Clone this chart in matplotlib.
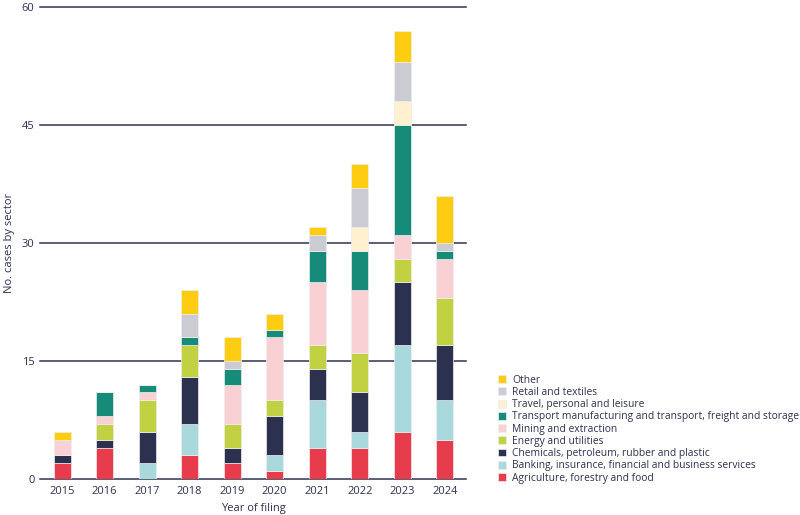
import matplotlib.pyplot as plt
import numpy as np

years = ['2015', '2016', '2017', '2018', '2019', '2020', '2021', '2022', '2023', '2024']

sectors = [
    'Agriculture, forestry and food',
    'Banking, insurance, financial and business services',
    'Chemicals, petroleum, rubber and plastic',
    'Energy and utilities',
    'Mining and extraction',
    'Transport manufacturing and transport, freight and storage',
    'Travel, personal and leisure',
    'Retail and textiles',
    'Other',
]

agriculture = [2, 4, 0, 3, 2, 1, 4, 4, 6, 5]
banking = [0, 0, 2, 4, 0, 2, 6, 2, 11, 5]
chemicals = [1, 1, 4, 6, 2, 5, 4, 5, 8, 7]
energy = [0, 2, 4, 4, 3, 2, 3, 5, 3, 6]
mining = [2, 1, 1, 0, 5, 8, 8, 8, 3, 5]
transport = [0, 3, 1, 1, 2, 1, 4, 5, 14, 1]
travel = [0, 0, 0, 0, 0, 0, 0, 3, 3, 0]
retail = [0, 0, 0, 3, 1, 0, 2, 5, 5, 1]
other = [1, 0, 0, 3, 3, 2, 1, 3, 4, 6]

series = [agriculture, banking, chemicals, energy, mining, transport, travel, retail, other]
colors = ['#e63c4b', '#a9d9dd', '#2d3150', '#c1d141', '#f9d0d3',
          '#168b79', '#fff1cf', '#cbccd3', '#fecd12']

navy = '#2d3150'
plt.rcParams['font.family'] = ['Open Sans', 'DejaVu Sans']

fig = plt.figure(figsize=(8, 5.15), dpi=100)
ax = fig.add_axes([0.05, 0.0699, 0.5325, 0.9165])

x = np.arange(len(years))
bottom = np.zeros(len(years))
handles = []
for name, vals, col in zip(sectors, series, colors):
    vals = np.array(vals)
    b = ax.bar(x, vals, width=0.4, bottom=bottom, color=col, label=name,
               edgecolor='#eeeeee', linewidth=0.5, zorder=3)
    handles.append(b)
    bottom += vals

ax.set_ylim(0, 60)
ax.set_xlim(-0.52, 9.5)
ax.set_yticks([0, 15, 30, 45, 60])
ax.set_xticks(x)
ax.set_xticklabels(years)
for y in [0, 15, 30, 45, 60]:
    ax.axhline(y, color=navy, linewidth=1.1, zorder=2, clip_on=False)
for s in ax.spines.values():
    s.set_visible(False)
ax.tick_params(axis='both', length=0, colors=navy, labelsize=8)
ax.tick_params(axis='x', pad=5)
ax.tick_params(axis='y', pad=4)

ax.set_xlabel('Year of filing', color=navy, fontsize=8, labelpad=4)
ax.set_ylabel('No. cases by sector', color=navy, fontsize=8, labelpad=5)

leg = fig.legend(handles[::-1], sectors[::-1], loc='lower left',
                 bbox_to_anchor=(0.617, 0.053), frameon=False,
                 fontsize=7.4, handlelength=0.8, handleheight=0.8,
                 handletextpad=0.6, labelspacing=0.12, borderaxespad=0)
for t in leg.get_texts():
    t.set_color(navy)

plt.savefig('out.png', dpi=100)
